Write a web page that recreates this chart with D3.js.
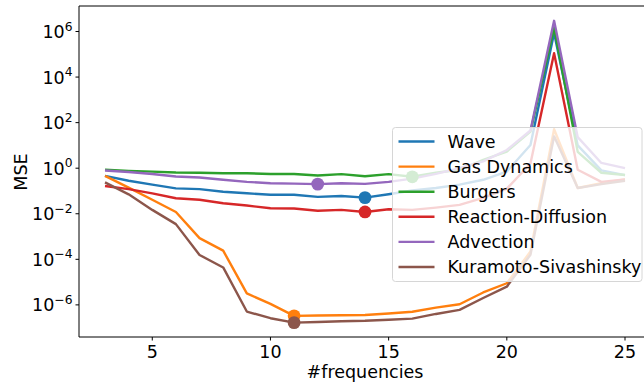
<!DOCTYPE html>
<html>
<head>
<meta charset="utf-8">
<script src="https://cdn.jsdelivr.net/npm/d3@7"></script>
<style>
body { margin: 0; background: #fff; }
text { font-family: "DejaVu Sans", sans-serif; fill: #000; }
</style>
</head>
<body>
<div id="chart"></div>
<script>
// number of frequencies on the x axis
var frequencies = [3,4,5,6,7,8,9,10,11,12,13,14,15,16,17,18,19,20,21,22,23,24,25];

var names = ["Wave", "Gas Dynamics", "Burgers", "Reaction-Diffusion", "Advection", "Kuramoto-Sivashinsky"];
var colors = ["#1f77b4", "#ff7f0e", "#2ca02c", "#d62728", "#9467bd", "#8c564b"];

// MSE for each equation
var wave = [0.46,0.28,0.19,0.13,0.12,0.093,0.079,0.068,0.068,0.055,0.06,0.051,0.072,0.105,0.135,0.19,0.31,0.71,10.5,8.7e5,10,0.8,0.5];
var gasDynamics = [0.46,0.14,0.041,0.012,8.5e-4,2.4e-4,3.2e-6,1.1e-6,3.3e-7,3.4e-7,3.5e-7,3.6e-7,4.2e-7,5.0e-7,7.6e-7,1.07e-6,3.5e-6,8.9e-6,2.2e-4,51,0.135,0.22,0.32];
var burgers = [0.85,0.76,0.71,0.65,0.63,0.6,0.6,0.56,0.56,0.48,0.55,0.44,0.55,0.42,0.63,0.85,2.3,5.4,40,1.45e6,5.2,0.63,0.5];
var reactionDiffusion = [0.166,0.12,0.079,0.048,0.041,0.029,0.023,0.0174,0.017,0.0135,0.0148,0.012,0.0158,0.0148,0.0186,0.0245,0.05,0.126,1.6,1.12e5,0.85,0.25,0.32];
var advection = [0.79,0.68,0.56,0.43,0.39,0.31,0.25,0.22,0.21,0.2,0.22,0.205,0.25,0.35,0.56,1.0,2.0,6.3,45,2.95e6,23,1.7,1.0];
var kuramoto = [0.24,0.071,0.0148,0.0035,1.55e-4,4.4e-5,5.1e-7,2.6e-7,1.66e-7,1.78e-7,1.9e-7,2.0e-7,2.24e-7,2.5e-7,4.0e-7,6.0e-7,2.0e-6,6.3e-6,1.6e-4,25,0.135,0.2,0.28];

// frequency picked for each equation (big dot)
var bestFreq = [14, 11, 16, 14, 12, 11];

var xTicks = [5, 10, 15, 20, 25];
var yTicks = [-6, -4, -2, 0, 2, 4, 6];

var series = [wave, gasDynamics, burgers, reactionDiffusion, advection, kuramoto];

var width = 644, height = 387;
var axLeft = 79, axRight = 651, axTop = 6, axBottom = 337;

var svg = d3.select("#chart").append("svg")
	.attr("width", width)
	.attr("height", height);

var x = d3.scaleLinear().domain([1.9, 26.1]).range([axLeft, axRight]);
var y = d3.scaleLog().domain([Math.pow(10, -7.41), Math.pow(10, 7.12)]).range([axBottom, axTop]);

svg.append("clipPath").attr("id", "clip")
	.append("rect").attr("x", axLeft).attr("y", axTop).attr("width", axRight - axLeft).attr("height", axBottom - axTop);

var line = d3.line()
	.x(function(d, i) { return x(frequencies[i]); })
	.y(function(d) { return y(d); });

var plot = svg.append("g").attr("clip-path", "url(#clip)");

plot.selectAll("path.series")
	.data(series)
	.enter()
	.append("path")
	.attr("class", "series")
	.attr("d", line)
	.attr("fill", "none")
	.attr("stroke", function(d, i) { return colors[i]; })
	.attr("stroke-width", 2.4)
	.attr("stroke-linejoin", "round");

plot.selectAll("circle")
	.data(series)
	.enter()
	.append("circle")
	.attr("cx", function(d, i) { return x(bestFreq[i]); })
	.attr("cy", function(d, i) { return y(d[frequencies.indexOf(bestFreq[i])]); })
	.attr("r", 6.4)
	.attr("fill", function(d, i) { return colors[i]; });

// x axis
var xAxis = svg.append("g").attr("transform", "translate(0," + axBottom + ")");
xAxis.append("line").attr("x1", axLeft).attr("x2", axRight).attr("stroke", "#000").attr("stroke-width", 1);
var xt = xAxis.selectAll("g").data(xTicks).enter().append("g")
	.attr("transform", function(d) { return "translate(" + x(d) + ",0)"; });
xt.append("line").attr("y2", 3.5).attr("stroke", "#000");
xt.append("text").attr("y", 21).attr("text-anchor", "middle").style("font-size", "17.5px")
	.text(function(d) { return d; });

// y axis, log labels as 10^n
var yAxis = svg.append("g").attr("transform", "translate(" + axLeft + ",0)");
yAxis.append("line").attr("y1", axTop).attr("y2", axBottom).attr("stroke", "#000");
var yt = yAxis.selectAll("g").data(yTicks).enter().append("g")
	.attr("transform", function(d) { return "translate(0," + y(Math.pow(10, d)) + ")"; });
yt.append("line").attr("x2", -3.5).attr("stroke", "#000");
var lab = yt.append("text").attr("x", -6.5).attr("y", 6.5).attr("text-anchor", "end").style("font-size", "17.5px");
lab.append("tspan").text("10");
lab.append("tspan").attr("dy", -7.5).style("font-size", "12.3px")
	.text(function(d) { return d < 0 ? "\u2212" + (-d) : d; });

// top spine
svg.append("line").attr("x1", axLeft).attr("x2", axRight).attr("y1", axTop).attr("y2", axTop).attr("stroke", "#000");

// axis titles
svg.append("text").attr("x", (axLeft + axRight) / 2).attr("y", 378).attr("text-anchor", "middle")
	.style("font-size", "17.5px").text("#frequencies");
svg.append("text").attr("transform", "translate(27,172) rotate(-90)").attr("text-anchor", "middle")
	.style("font-size", "17.5px").text("MSE");

// legend
var lx = 392.5, ly = 127.5;
var legend = svg.append("g");
legend.append("rect").attr("x", lx).attr("y", ly).attr("width", 249.5).attr("height", 154)
	.attr("rx", 3).attr("fill", "#fff").attr("fill-opacity", 0.8).attr("stroke", "#d6d6d6");
var li = legend.selectAll("g.item").data(names).enter().append("g").attr("class", "item")
	.attr("transform", function(d, i) { return "translate(" + lx + "," + (ly + 14 + i * 25.1) + ")"; });
li.append("line").attr("x1", 6).attr("x2", 42).attr("stroke-width", 2.4)
	.attr("stroke", function(d, i) { return colors[i]; });
li.append("text").attr("x", 55).attr("y", 6).style("font-size", "17.5px").text(function(d) { return d; });
</script>
</body>
</html>
